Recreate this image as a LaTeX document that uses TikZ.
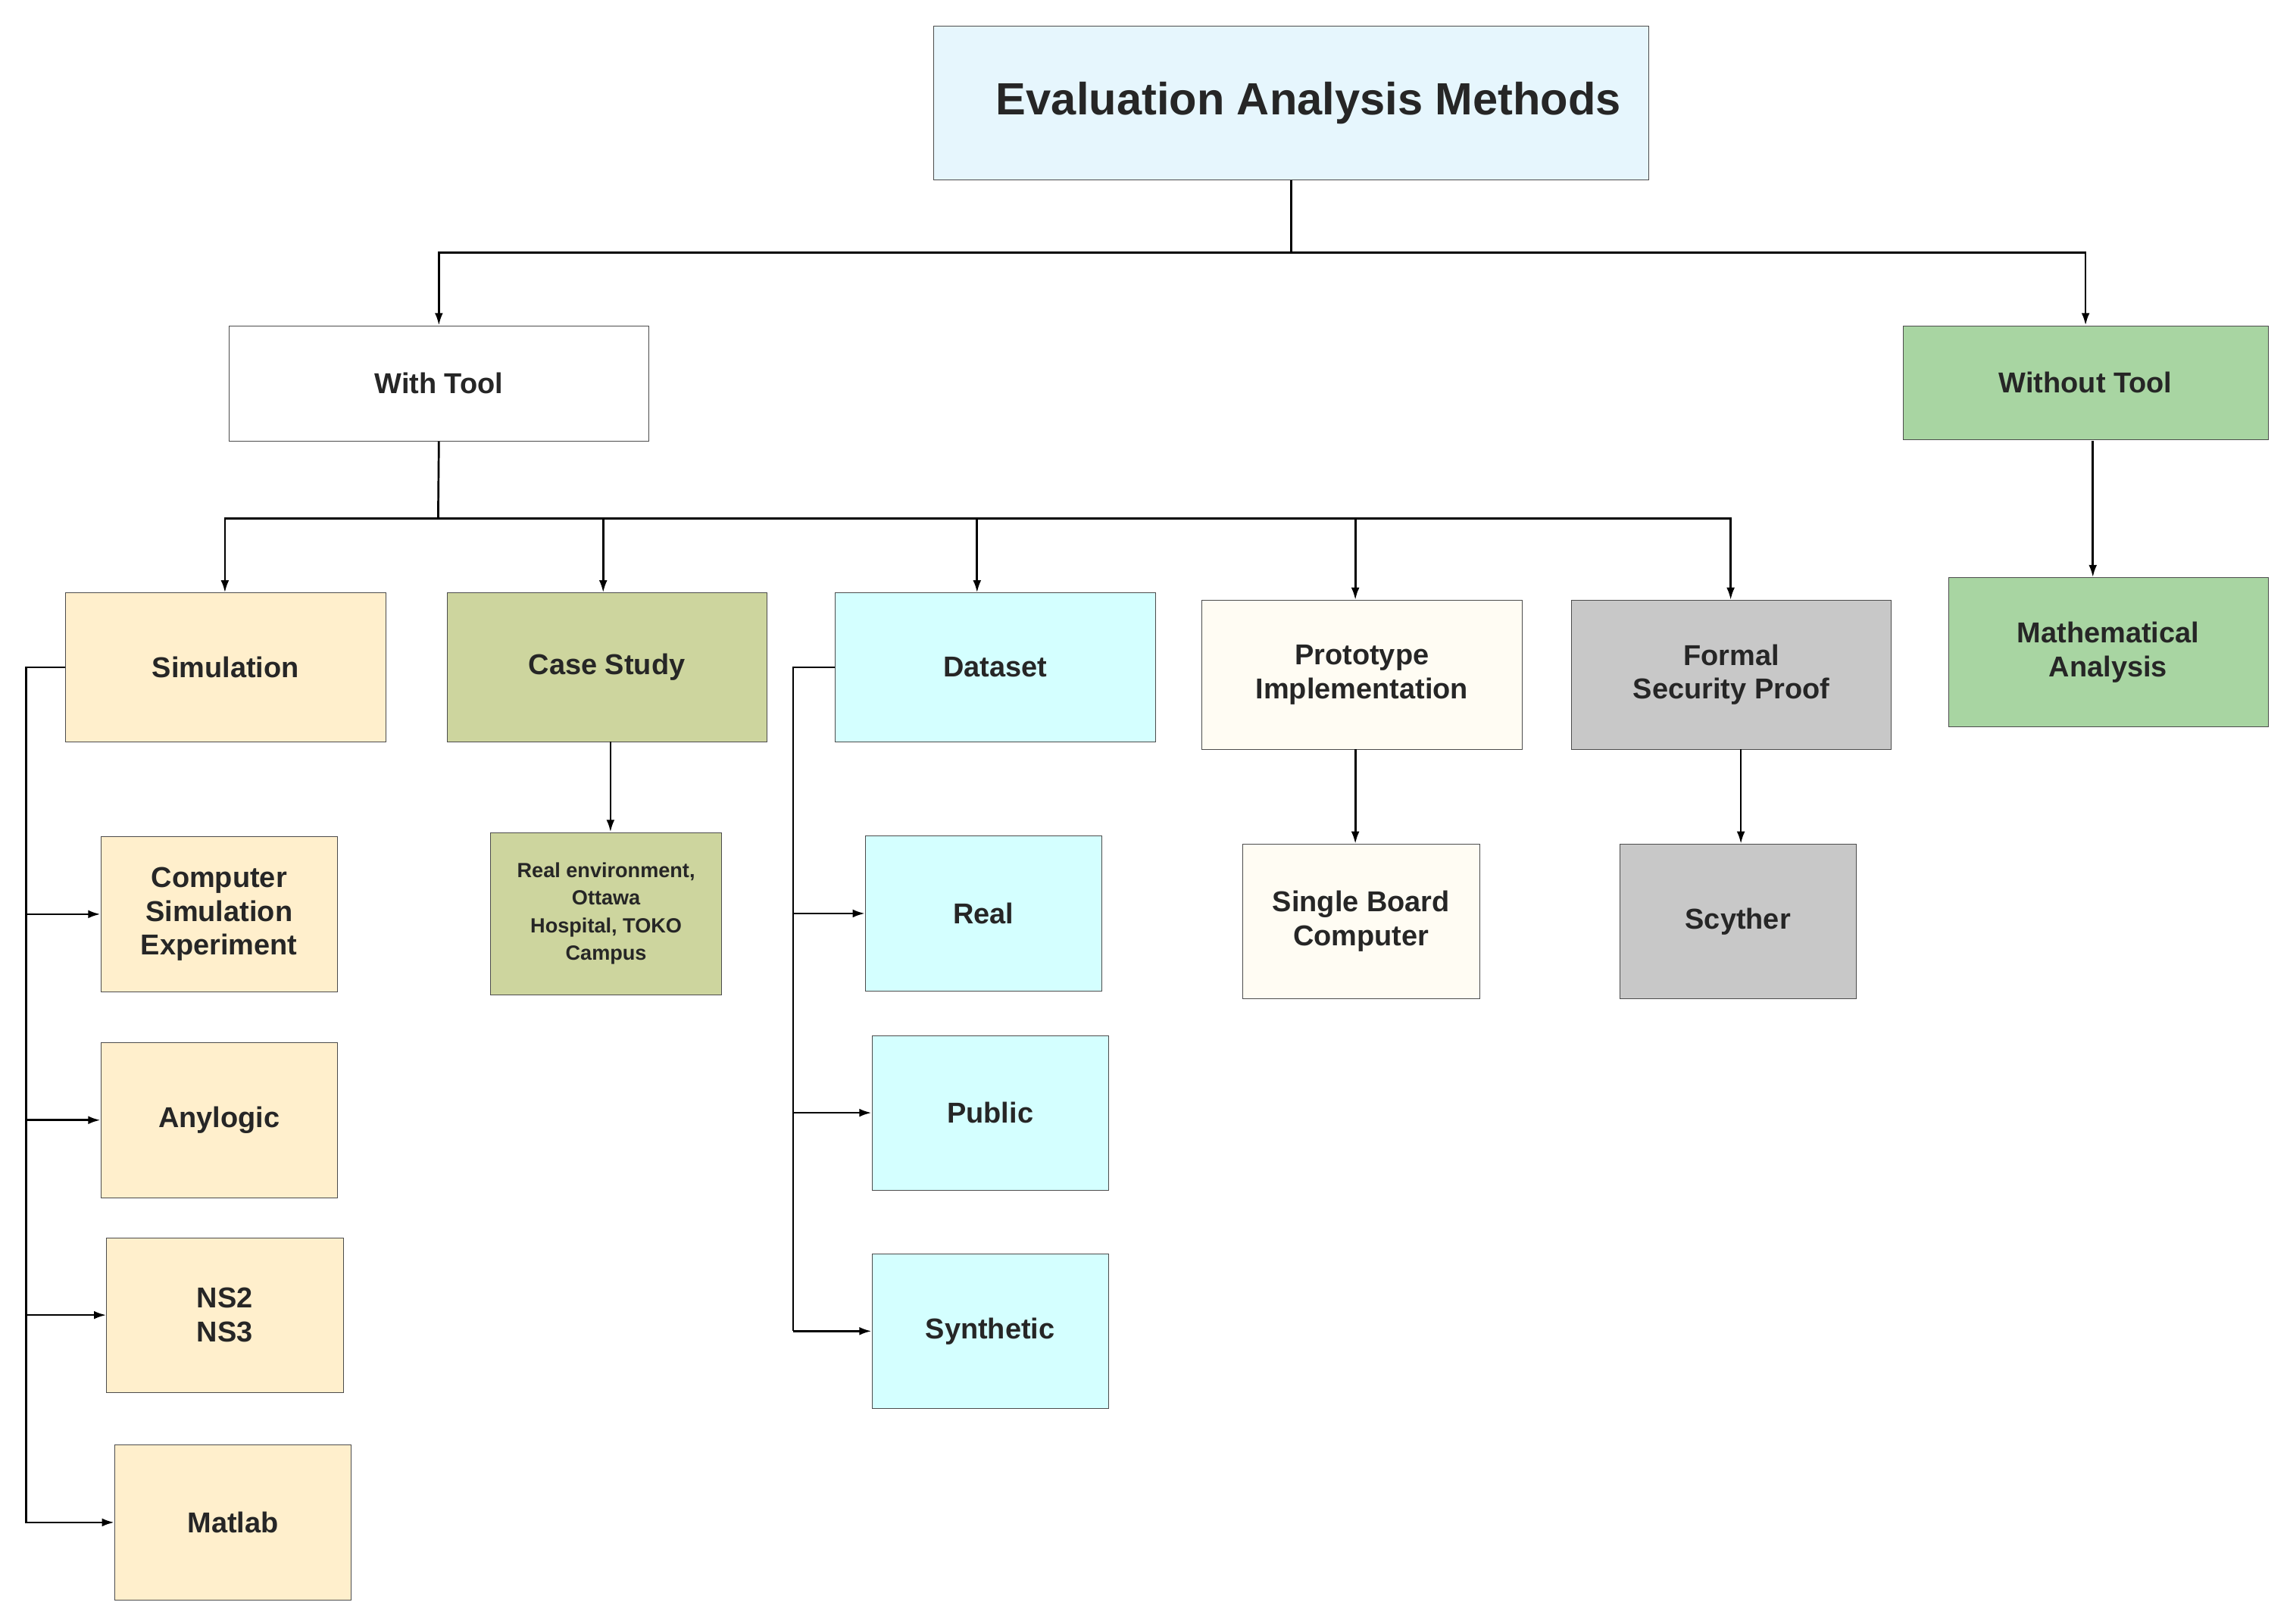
\documentclass[tikz,border=0pt]{standalone}
\usepackage{fontspec}
\setmainfont{Liberation Sans}
\usetikzlibrary{arrows.meta}
\definecolor{rootfill}{HTML}{E6F6FD}
\definecolor{greenfill}{HTML}{A8D5A2}
\definecolor{simfill}{HTML}{FFEFCC}
\definecolor{casefill}{HTML}{CDD59E}
\definecolor{datafill}{HTML}{D4FFFF}
\definecolor{protofill}{HTML}{FFFCF3}
\definecolor{greyfill}{HTML}{C8C8C8}
\begin{document}
\begin{tikzpicture}
            [x=0.05cm, y=-0.05cm,
            every node/.style={draw=black!70, line width=0.6pt, rectangle, align=center, font=\bfseries\fontsize{28}{33}\selectfont, text=black!85},
            top/.style={minimum width=24.5cm, minimum height=5.25cm, font=\bfseries\fontsize{44}{52}\selectfont},
            mid/.style={minimum width=10.95cm, minimum height=5.1cm},
            leaf/.style={minimum width=8.1cm, minimum height=5.3cm},
            conn/.style={line width=2pt, black},
            arr/.style={conn, -{Latex[length=12pt, width=8pt]}}]

            \useasboundingbox (0,0) rectangle (1568,1112);

            % root and first level
            \node[top, fill=rootfill] (root) at (884,70.5) {\hspace{1.2cm}Evaluation Analysis Methods};
            \node[minimum width=14.35cm, minimum height=3.95cm, fill=white] (with) at (300.5,262.5) {With Tool};
            \node[minimum width=12.5cm, minimum height=3.9cm, fill=greenfill] (without) at (1428,262) {Without Tool};

            % second level
            \node[mid, fill=simfill] (sim) at (154.5,457) {Simulation};
            \node[mid, fill=casefill] (case) at (415.5,457) {Case Study};
            \node[mid, fill=datafill] (data) at (681.5,457) {Dataset};
            \node[mid, fill=protofill] (proto) at (932.5,462) {Prototype\\Implementation};
            \node[mid, fill=greyfill] (formal) at (1185.5,462) {Formal\\Security Proof};
            \node[mid, fill=greenfill] (math) at (1443.5,446.5) {Mathematical\\Analysis};

            % leaves
            \node[leaf, fill=simfill] (csim) at (150,626) {Computer\\Simulation\\Experiment};
            \node[leaf, fill=simfill] (any) at (150,767) {Anylogic};
            \node[leaf, fill=simfill] (ns) at (154,900.5) {NS2\\NS3};
            \node[leaf, fill=simfill] (matlab) at (159.5,1042.5) {Matlab};
            \node[minimum width=7.9cm, minimum height=5.55cm, fill=casefill, font=\bfseries\fontsize{20}{27}\selectfont] (realenv) at (415,625.5) {Real environment,\\Ottawa\\Hospital, TOKO\\Campus};
            \node[leaf, fill=datafill] (real) at (673.5,625.5) {Real};
            \node[leaf, fill=datafill] (public) at (678,762) {Public};
            \node[leaf, fill=datafill] (synth) at (678,911.5) {Synthetic};
            \node[leaf, fill=protofill] (sbc) at (932,631) {Single Board\\Computer};
            \node[leaf, fill=greyfill] (scyther) at (1190,631) {Scyther};

            % root branches
            \draw[conn] (root.south) -- (884,173);
            \draw[arr] (884,173) -| (with.north);
            \draw[arr] (884,173) -| (without.north);

            % with tool branches
            \draw[conn] (with.south) -- (300,355);
            \foreach \n/\x in {sim/154, case/413, data/669, proto/928, formal/1185}
                \draw[arr] (300,355) -- (\x,355) -- (\n.north -| \x,0);
            \draw[arr] (1433,302) -- (math.north -| 1433,0);

            % simulation list
            \draw[conn] (sim.west) -- (18,457) -- (18,1043);
            \foreach \n in {csim, any, ns, matlab}
                \draw[arr] (\n.west -| 18,0) -- (\n.west);

            % dataset list
            \draw[conn] (data.west) -- (543,457) -- (543,911.5);
            \foreach \n in {real, public, synth}
                \draw[arr] (\n.west -| 543,0) -- (\n.west);

            % single children
            \draw[arr] (418,508) -- (realenv.north -| 418,0);
            \draw[arr] (928,513) -- (sbc.north -| 928,0);
            \draw[arr] (1192,513) -- (scyther.north -| 1192,0);
        \end{tikzpicture}
\end{document}
